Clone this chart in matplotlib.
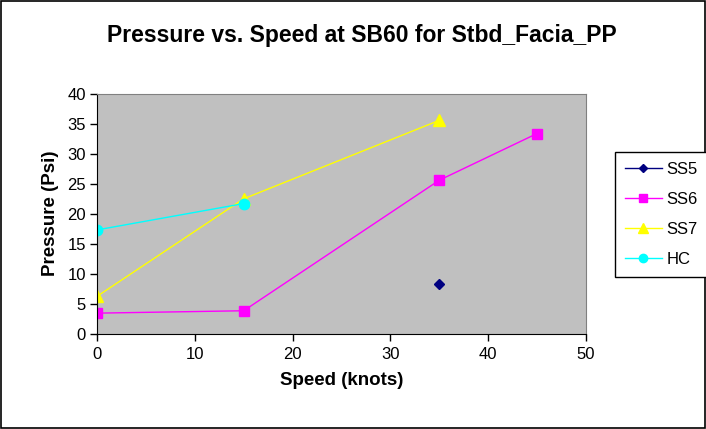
import matplotlib
matplotlib.use("Agg")
import matplotlib.pyplot as plt
from matplotlib.patches import Rectangle

plt.rcParams['font.family'] = ['Liberation Sans', 'DejaVu Sans']

title = "Pressure vs. Speed at SB60 for Stbd_Facia_PP"
xlabel = "Speed (knots)"
ylabel = "Pressure (Psi)"

ss5_x = [35]
ss5_y = [8.2]
ss6_x = [0, 15, 35, 45]
ss6_y = [3.4, 3.8, 25.6, 33.4]
ss7_x = [0, 15, 35]
ss7_y = [6.2, 22.5, 35.6]
hc_x = [0, 15]
hc_y = [17.3, 21.7]

xticks = [0, 10, 20, 30, 40, 50]
yticks = [0, 5, 10, 15, 20, 25, 30, 35, 40]

fig = plt.figure(figsize=(7.06, 4.29), dpi=100)
fig.patch.set_facecolor('white')
fig.add_artist(Rectangle((0.002, 0.002), 0.996, 0.995, transform=fig.transFigure,
                         fill=False, edgecolor='black', linewidth=1.2))

ax = fig.add_axes([0.1374, 0.2226, 0.6926, 0.5583])
ax.set_facecolor('#C0C0C0')

ax.plot(ss5_x, ss5_y, color='#000080', marker='D', markersize=5.5, linewidth=1, label='SS5')
ax.plot(ss6_x, ss6_y, color='#FF00FF', marker='s', markersize=7.5, linewidth=1, label='SS6')
ax.plot(ss7_x, ss7_y, color='#FFFF00', marker='^', markersize=8.5, linewidth=1, label='SS7')
ax.plot(hc_x, hc_y, color='#00FFFF', marker='o', markersize=7.5, linewidth=1, label='HC')

ax.set_xlim(0, 50)
ax.set_ylim(0, 40)
ax.set_xticks(xticks)
ax.set_yticks(yticks)
ax.tick_params(direction='out', length=5, width=1, labelsize=12, colors='black')
ax.tick_params(axis='x', pad=5)
ax.tick_params(axis='y', pad=3)
for s in ['top', 'right']:
    ax.spines[s].set_color('#808080')
for s in ['left', 'bottom']:
    ax.spines[s].set_color('black')

ax.set_xlabel(xlabel, fontsize=13.5, fontweight='bold', labelpad=7)
ax.set_ylabel(ylabel, fontsize=13.5, fontweight='bold', labelpad=6)
fig.text(0.513, 0.918, title, ha='center', va='center', fontsize=16.5, fontweight='bold')

leg = fig.legend(loc='upper left', bbox_to_anchor=(0.871, 0.646), fontsize=12,
                 frameon=True, fancybox=False, edgecolor='black', framealpha=1,
                 handlelength=2.2, handletextpad=0.3, labelspacing=0.9, borderpad=0.6,
                 borderaxespad=0, markerscale=0.8)
leg.get_frame().set_linewidth(1)

fig.savefig('out.png', dpi=100)
